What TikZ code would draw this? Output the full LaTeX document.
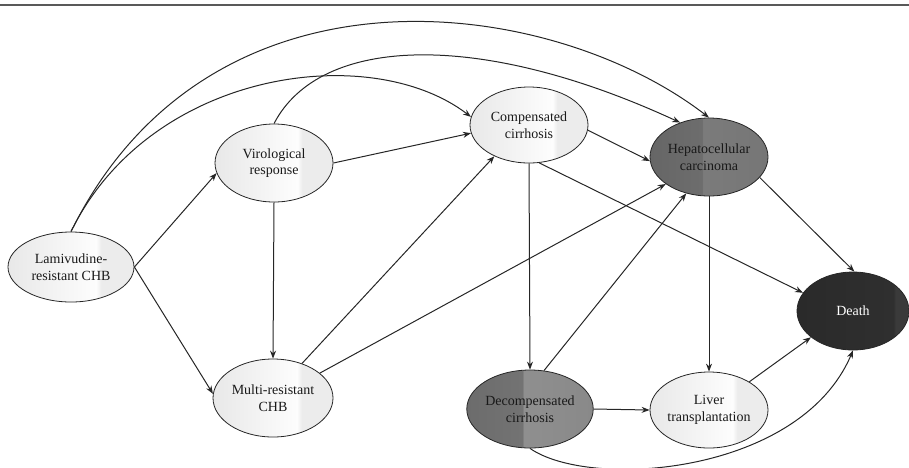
\documentclass[tikz,border=0pt]{standalone}
\usepackage{fontspec}
\setmainfont{Liberation Serif}
\usetikzlibrary{shapes.geometric,arrows.meta}
\definecolor{lgA}{HTML}{E8E8E8}
\definecolor{lgB}{HTML}{FDFDFD}
\definecolor{lgC}{HTML}{ECECEC}
\definecolor{hA}{HTML}{666666}
\definecolor{hB}{HTML}{6D6D6D}
\definecolor{hC}{HTML}{7B7B7B}
\definecolor{hD}{HTML}{767676}
\definecolor{dA}{HTML}{6C6C6C}
\definecolor{dB}{HTML}{737373}
\definecolor{dC}{HTML}{8F8F8F}
\definecolor{dD}{HTML}{898989}
\definecolor{kA}{HTML}{2A2A2A}
\definecolor{kB}{HTML}{2F2F2F}
\definecolor{kC}{HTML}{3A3A3A}
\definecolor{edge}{HTML}{262626}
\pgfdeclarehorizontalshading{lightsh}{100bp}{color(0bp)=(lgA); color(25bp)=(lgA); color(60bp)=(lgB); color(62bp)=(lgC); color(75bp)=(lgC); color(100bp)=(lgC)}
\pgfdeclarehorizontalshading{hepsh}{100bp}{color(0bp)=(hA); color(25bp)=(hA); color(47bp)=(hB); color(47.5bp)=(hC); color(75bp)=(hD); color(100bp)=(hD)}
\pgfdeclarehorizontalshading{decsh}{100bp}{color(0bp)=(dA); color(25bp)=(dA); color(47bp)=(dB); color(47.5bp)=(dC); color(75bp)=(dD); color(100bp)=(dD)}
\pgfdeclarehorizontalshading{deathsh}{100bp}{color(0bp)=(kA); color(25bp)=(kA); color(68bp)=(kB); color(69bp)=(kC); color(75bp)=(kC); color(100bp)=(kC)}
\begin{document}
\begin{tikzpicture}[x=1pt,y=-1pt,
  st/.style={ellipse, draw=edge, line width=0.8pt, inner sep=0pt, align=center,
    font=\fontsize{14}{16.5}\selectfont, text=black!90},
  light/.style={st, shade, shading=lightsh},
  hepsty/.style={st, shade, shading=hepsh},
  decsty/.style={st, shade, shading=decsh},
  deathsty/.style={st, shade, shading=deathsh, text=white},
  arr/.style={draw=edge, line width=1pt, -{Stealth[length=8pt,width=6pt]}}]
\useasboundingbox (0,0) rectangle (909,467);
\draw[line width=2pt, black!65] (0,4.5) -- (909,4.5);

\node[light, minimum width=126pt, minimum height=70pt] (lam) at (71,267) {Lamivudine-\\resistant CHB};
\node[light, minimum width=118pt, minimum height=78pt] (vir) at (274,163) {Virological\\response};
\node[light, minimum width=120pt, minimum height=78pt] (multi) at (273,398) {Multi-resistant\\CHB};
\node[light, minimum width=118pt, minimum height=76pt] (comp) at (529,125) {Compensated\\cirrhosis};
\node[hepsty, minimum width=118pt, minimum height=78pt] (hep) at (709,157) {Hepatocellular\\carcinoma};
\node[decsty, minimum width=116pt, minimum height=78pt] (dec) at (530,409) {Decompensated\\cirrhosis};
\node[light, minimum width=118pt, minimum height=76pt] (liver) at (709,410) {Liver\\transplantation};
\node[deathsty, minimum width=112pt, minimum height=78pt] (death) at (853,311) {Death};

% straight connectors
\draw[arr] (lam.east) -- (vir.190);
\draw[arr] (lam.east) -- (multi.176);
\draw[arr] (vir.south) -- (multi.north);
\draw[arr] (vir.east) -- (comp.188);
\draw[arr] (multi.50) -- (comp.222);
\draw[arr] (multi.28) -- (hep.212);
\draw[arr] (comp.-5) -- (hep.184);
\draw[arr] (comp.south) -- (dec.north);
\draw[arr] (comp.-75) -- (death.160);
\draw[arr] (hep.-22) -- (death.88);
\draw[arr] (hep.south) -- (liver.north);
\draw[arr] (dec.70) -- (hep.238);
\draw[arr] (dec.east) -- (liver.west);
\draw[arr] (liver.35) -- (death.212);

% curved connectors
\draw[arr] (lam.north) .. controls (210,-50) and (550,-5) .. (hep.north);
\draw[arr] (vir.north) .. controls (320,35) and (480,30) .. (hep.130);
\draw[arr] (lam.north) .. controls (150,70) and (370,40) .. (comp.172);
\draw[arr] (dec.south) .. controls (590,490) and (800,475) .. (death.south);
\end{tikzpicture}
\end{document}
